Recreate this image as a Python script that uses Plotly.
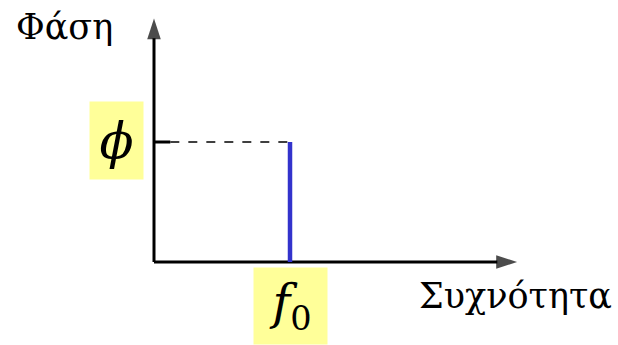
import plotly.graph_objects as go

# Dados do esquema: uma unica componente de frequencia f0 com fase phi
freq_f0 = [1.0]
fase_phi = [1.0]
eixo_x_max = 2.67   # comprimento do eixo das frequencias
eixo_y_max = 2.03   # comprimento do eixo das fases

rotulo_x = 'Συχνότητα'
rotulo_y = 'Φάση'
rotulo_f0 = '<i>f</i><sub>0</sub>'
rotulo_phi = '<i>ϕ</i>'

AZUL = '#3333cc'
AMARELO = '#ffff99'
FONTE = 'DejaVu Serif'

f0 = freq_f0[0]
phi = fase_phi[0]

fig = go.Figure()

# eixos com seta na ponta
seta = dict(symbol='arrow', size=[0, 22], angleref='previous', color='black',
            line=dict(width=0))
fig.add_trace(go.Scatter(
    x=[0, eixo_x_max], y=[0, 0], mode='lines+markers',
    line=dict(color='black', width=3), marker=seta, hoverinfo='skip'
))
fig.add_trace(go.Scatter(
    x=[0, 0], y=[0, eixo_y_max], mode='lines+markers',
    line=dict(color='black', width=3), marker=seta, hoverinfo='skip'
))
# linha tracejada de referencia ate a fase
fig.add_trace(go.Scatter(
    x=[0.12, f0], y=[phi, phi], mode='lines',
    line=dict(color='black', width=1.5, dash='dash'), hoverinfo='skip'
))
# pequeno traco no eixo y
fig.add_trace(go.Scatter(
    x=[0, 0.12], y=[phi, phi], mode='lines',
    line=dict(color='black', width=3), hoverinfo='skip'
))
# pequeno traco no eixo x
fig.add_trace(go.Scatter(
    x=[f0, f0], y=[0, 0.06], mode='lines',
    line=dict(color='black', width=3), hoverinfo='skip'
))
# componente espectral
fig.add_trace(go.Scatter(
    x=[f0, f0], y=[0, phi], mode='lines',
    line=dict(color=AZUL, width=4.5), hoverinfo='skip'
))

anotacoes = [
    dict(x=14 / 618, y=1 - 27 / 345, xref='paper', yref='paper', xanchor='left', yanchor='middle',
         text=rotulo_y, showarrow=False, font=dict(family=FONTE, size=35, color='black')),
    dict(x=614 / 618, y=1 - 296 / 345, xref='paper', yref='paper', xanchor='right', yanchor='middle',
         text=rotulo_x, showarrow=False, font=dict(family=FONTE, size=35, color='black')),
    dict(x=116.5 / 618, y=1 - 140.5 / 345, xref='paper', yref='paper', xanchor='center', yanchor='middle',
         text=rotulo_phi, showarrow=False, bgcolor=AMARELO, width=51, height=75,
         font=dict(family=FONTE, size=50, color='black')),
    dict(x=290.5 / 618, y=1 - 306 / 345, xref='paper', yref='paper', xanchor='center', yanchor='middle',
         text=rotulo_f0, showarrow=False, bgcolor=AMARELO, width=71, height=74,
         font=dict(family=FONTE, size=48, color='black')),
]

fig.update_layout(
    width=618, height=345,
    margin=dict(l=0, r=0, t=0, b=0),
    paper_bgcolor='white', plot_bgcolor='white',
    showlegend=False,
    xaxis=dict(range=[-154 / 136, 464 / 136], visible=False, fixedrange=True),
    yaxis=dict(range=[-83 / 120, 262 / 120], visible=False, fixedrange=True),
    annotations=anotacoes,
)

# tira a margem padrao do body para a figura ocupar a janela inteira
fig.write_html('out.html', config={'displayModeBar': False},
               post_script="document.body.style.margin='0px';")
